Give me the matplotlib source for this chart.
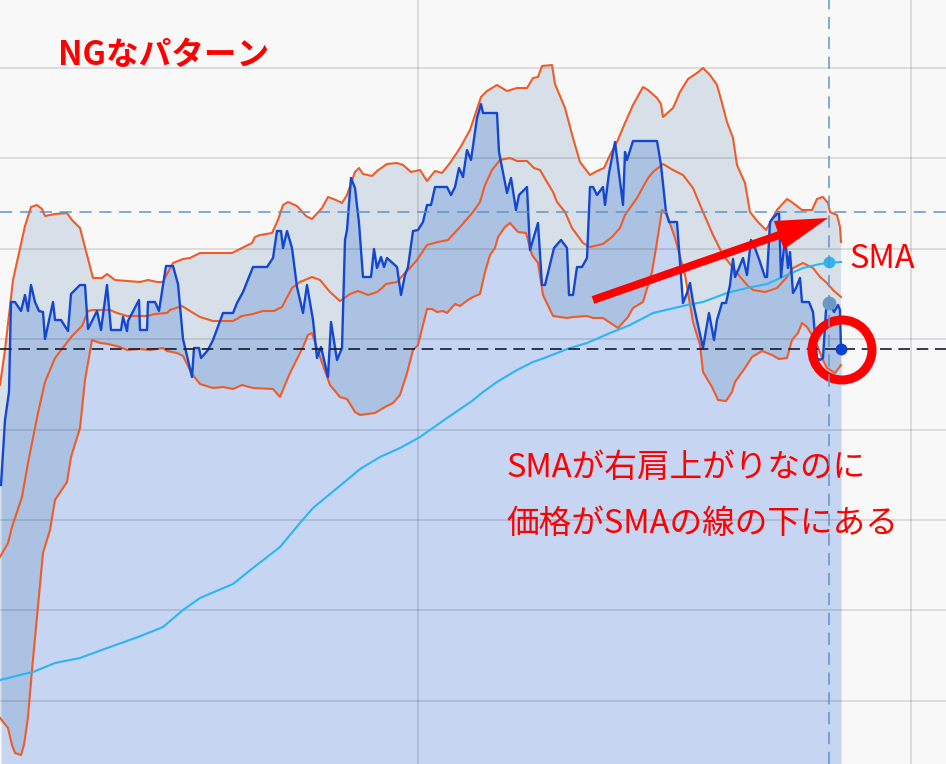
import numpy as np
import matplotlib
matplotlib.use("Agg")
import matplotlib.pyplot as plt
from matplotlib.patches import Circle

plt.rcParams['font.family'] = ['Noto Sans CJK JP', 'DejaVu Sans']

# price (time, value)
price_t = [1, 5, 9, 11, 15, 21, 25, 28, 31, 35, 39, 43, 45, 53, 55, 61, 68, 71, 80, 85,
           88, 97, 101, 107, 111, 121, 123, 127, 128, 139, 140, 147, 148, 155, 159, 166, 173, 178, 183, 192,
           194, 199, 201, 208, 213, 223, 233, 237, 243, 253, 267, 273, 277, 281, 283, 287, 292, 297, 303, 307,
           313, 317, 321, 328, 331, 337, 342, 345, 347, 351, 355, 359, 363, 371, 374, 377, 381, 384, 387, 397,
           401, 405, 408, 413, 418, 423, 427, 431, 435, 447, 451, 455, 459, 463, 467, 471, 477, 481, 483, 497,
           499, 507, 511, 516, 519, 527, 530, 538, 542, 545, 554, 561, 567, 569, 573, 577, 582, 587, 590, 593,
           597, 603, 605, 609, 615, 623, 625, 627, 633, 657, 661, 666, 669, 677, 683, 687, 690, 693, 698, 703,
           709, 714, 717, 722, 726, 730, 733, 735, 739, 743, 747, 751, 755, 760, 765, 767, 770, 773, 779, 781,
           785, 788, 790, 793, 796, 800, 802, 809, 813, 817, 820, 823, 826, 830, 834, 838, 840, 841]
price_v = [279, 344, 372, 462, 462, 453, 469, 453, 479, 462, 453, 452, 425, 462, 444, 444, 433, 470, 479, 479,
           435, 453, 434, 479, 434, 434, 447, 433, 443, 464, 434, 434, 462, 462, 453, 498, 498, 480, 425, 387,
           416, 416, 406, 414, 424, 451, 451, 461, 472, 497, 497, 506, 533, 533, 516, 533, 516, 477, 451, 479,
           444, 406, 417, 387, 442, 404, 416, 524, 534, 586, 576, 541, 487, 487, 515, 496, 507, 497, 506, 497,
           469, 489, 497, 533, 534, 542, 559, 559, 577, 577, 569, 577, 596, 587, 614, 604, 646, 660, 651, 651,
           612, 571, 586, 554, 569, 577, 514, 541, 479, 479, 516, 524, 516, 469, 469, 497, 497, 506, 577, 577,
           569, 577, 559, 591, 622, 559, 612, 604, 623, 623, 599, 552, 542, 542, 461, 471, 481, 462, 439, 416,
           451, 424, 444, 461, 461, 479, 505, 487, 496, 506, 489, 524, 516, 502, 487, 487, 542, 546, 552, 487,
           527, 496, 512, 471, 476, 486, 462, 462, 452, 406, 404, 406, 454, 461, 452, 459, 454, 415]

upper_t = [0, 5, 13, 25, 31, 37, 42, 45, 55, 67, 72, 80, 93, 102, 107, 115, 127, 140, 148, 157,
           163, 167, 173, 183, 190, 200, 232, 252, 255, 260, 272, 278, 283, 288, 297, 306, 312, 322, 328, 336,
           342, 347, 355, 359, 363, 372, 377, 387, 397, 403, 411, 420, 427, 435, 442, 450, 460, 470, 481, 487,
           497, 507, 517, 527, 533, 538, 542, 552, 555, 565, 573, 580, 590, 597, 604, 610, 617, 625, 633, 643,
           648, 657, 661, 663, 673, 680, 688, 697, 703, 710, 717, 722, 727, 733, 737, 745, 750, 758, 766, 770,
           777, 787, 793, 802, 812, 817, 823, 828, 830, 837, 840, 841]
upper_v = [379, 414, 484, 538, 557, 559, 555, 548, 550, 551, 544, 536, 486, 486, 490, 484, 483, 482, 484, 482,
           482, 490, 501, 505, 506, 511, 511, 521, 527, 529, 531, 544, 559, 562, 558, 548, 545, 556, 567, 564,
           561, 569, 592, 596, 590, 588, 593, 600, 601, 599, 592, 594, 583, 593, 591, 601, 616, 634, 667, 673,
           679, 673, 676, 676, 686, 687, 698, 699, 680, 656, 626, 602, 589, 593, 596, 609, 622, 641, 659, 677,
           674, 666, 660, 647, 656, 672, 685, 691, 696, 689, 679, 661, 642, 626, 599, 581, 552, 542, 534, 541,
           554, 565, 561, 554, 554, 565, 567, 561, 552, 549, 537, 522]

middle_t = [0, 8, 12, 22, 28, 32, 38, 45, 55, 72, 82, 88, 93, 110, 117, 127, 147, 155, 167, 170,
            182, 190, 200, 213, 233, 242, 253, 263, 274, 282, 292, 300, 312, 320, 330, 340, 350, 358, 368, 377,
            382, 386, 397, 403, 410, 417, 427, 438, 448, 460, 473, 480, 485, 492, 500, 510, 517, 527, 534, 540,
            547, 553, 557, 565, 572, 583, 590, 603, 612, 620, 625, 637, 648, 653, 663, 673, 683, 693, 703, 713,
            723, 737, 747, 753, 765, 777, 787, 793, 803, 813, 820, 827, 833, 841]
middle_v = [207, 221, 237, 267, 301, 321, 351, 382, 406, 428, 438, 453, 454, 454, 451, 448, 448, 450, 451, 454,
            458, 453, 447, 443, 443, 448, 450, 453, 453, 457, 476, 482, 487, 484, 472, 463, 470, 473, 469, 472,
            476, 480, 482, 489, 496, 504, 519, 522, 524, 537, 552, 562, 579, 594, 604, 606, 603, 603, 596, 594,
            582, 572, 562, 552, 536, 521, 517, 520, 527, 536, 549, 566, 586, 592, 600, 594, 589, 576, 552, 529,
            509, 491, 479, 474, 472, 476, 487, 496, 501, 496, 487, 481, 474, 467]

lower_t = [0, 8, 12, 15, 21, 24, 28, 32, 43, 50, 55, 67, 71, 80, 85, 92, 100, 108, 120, 127,
           140, 150, 163, 167, 177, 183, 192, 200, 213, 223, 233, 242, 253, 273, 280, 290, 303, 308, 312, 320,
           330, 340, 347, 355, 360, 375, 385, 393, 400, 407, 413, 418, 427, 432, 437, 443, 447, 455, 460, 468,
           473, 480, 485, 490, 495, 498, 505, 510, 518, 526, 532, 538, 543, 553, 567, 573, 587, 593, 603, 618,
           628, 633, 643, 652, 657, 662, 667, 675, 685, 693, 700, 703, 712, 718, 726, 732, 735, 745, 752, 762,
           772, 779, 787, 792, 798, 802, 807, 812, 817, 822, 827, 835, 841]
lower_v = [46, 36, 19, 11, 9, 19, 47, 94, 211, 234, 264, 282, 307, 336, 384, 424, 421, 420, 417, 414,
           415, 414, 416, 413, 411, 408, 390, 380, 376, 377, 375, 379, 376, 375, 367, 391, 417, 429, 431, 407,
           379, 367, 365, 352, 349, 351, 357, 361, 369, 391, 414, 419, 455, 455, 452, 453, 451, 460, 458, 464,
           467, 470, 492, 509, 516, 527, 537, 541, 532, 531, 509, 501, 469, 448, 446, 447, 448, 446, 446, 436,
           447, 456, 462, 492, 522, 554, 549, 526, 489, 442, 419, 392, 377, 364, 363, 372, 382, 396, 407, 413,
           409, 405, 406, 424, 431, 441, 437, 429, 419, 406, 396, 391, 399]

sma_t = [0, 20, 33, 55, 80, 110, 138, 163, 183, 200, 233, 253, 280, 300, 313, 347, 360, 380, 400, 420,
         447, 472, 483, 497, 517, 533, 547, 567, 587, 610, 630, 653, 670, 687, 703, 727, 747, 767, 787, 803,
         820, 828, 841]
sma_v = [84, 89, 92, 101, 106, 117, 127, 137, 154, 166, 180, 196, 217, 241, 256, 284, 295, 307, 316, 327,
         346, 363, 372, 382, 394, 402, 407, 415, 421, 431, 439, 451, 455, 459, 462, 471, 476, 480, 489, 496,
         500, 501, 502]

hover_t = 829
hover_price = 461
hover_sma = 502
crosshair_v = 552
last_t = 841
last_price = 415

BG = '#f8f8f8'
ORANGE = '#ee5c28'

fig = plt.figure(figsize=(9.46, 7.64), dpi=100, facecolor=BG)
ax = fig.add_axes([0, 0, 1, 1], facecolor=BG)
ax.set_xlim(0, 946)
ax.set_ylim(0, 764)

# price area and band area
ax.fill_between(price_t, price_v, 0, color='#c6d5f1', lw=0, zorder=1)
ax.fill(np.r_[upper_t, lower_t[::-1]], np.r_[upper_v, lower_v[::-1]],
        color='#135494', alpha=0.14, lw=0, zorder=1.1)

ax.plot(upper_t, upper_v, color=ORANGE, lw=1.5, zorder=2)
ax.plot(middle_t, middle_v, color=ORANGE, lw=1.5, zorder=2)
ax.plot(lower_t, lower_v, color=ORANGE, lw=1.5, zorder=2)
ax.plot(sma_t, sma_v, color='#2bb5f5', lw=1.5, zorder=2.1)
ax.plot(price_t, price_v, color='#1447cf', lw=1.7, zorder=2.2)

# grid
ax.set_xticks([418, 911])
ax.set_yticks(np.arange(63.2, 764, 90.4))
ax.grid(True, color='black', alpha=0.12, lw=1.3)
ax.set_axisbelow('line')
ax.tick_params(length=0, labelleft=False, labelbottom=False)
for s in ax.spines.values():
    s.set_visible(False)

# last price line and crosshair
ax.axhline(last_price, color='#141c2c', lw=1.2, dashes=(7, 4), zorder=3)
ax.axhline(crosshair_v, color='#5d95c9', lw=1.1, dashes=(8, 5), zorder=3)
ax.axvline(hover_t, color='#5d95c9', lw=1.1, dashes=(8, 5), zorder=5)

ax.plot([hover_t], [hover_sma], 'o', color='#2bb5f5', ms=8.5, mec='none', zorder=4)
ax.plot([hover_t], [hover_price], 'o', color='#6a9bc6', ms=10, mec='none', zorder=4)
ax.plot([last_t], [last_price], 'o', color='#0b40d3', ms=8.5, mec='none', zorder=4)

# annotations
ax.text(58, 699, 'NGなパターン', color='red', fontsize=23.5, fontweight='bold',
        ha='left', va='baseline', zorder=4)
ax.text(849, 496, 'SMA', color='red', fontsize=23.5, ha='left', va='baseline', zorder=4)
ax.text(506, 287, 'SMAが右肩上がりなのに', color='red', fontsize=23.5,
        ha='left', va='baseline', zorder=4)
ax.text(506, 231, '価格がSMAの線の下にある', color='red', fontsize=23.5,
        ha='left', va='baseline', zorder=4)

ax.arrow(593, 464, 235, 82, width=8, head_width=30, head_length=52,
         length_includes_head=True, color='red', lw=0, zorder=4)
ax.add_patch(Circle((842, 414), 30, fill=False, ec='red', lw=6.5, zorder=4.5))

fig.savefig('out.png', dpi=100, facecolor=BG)
